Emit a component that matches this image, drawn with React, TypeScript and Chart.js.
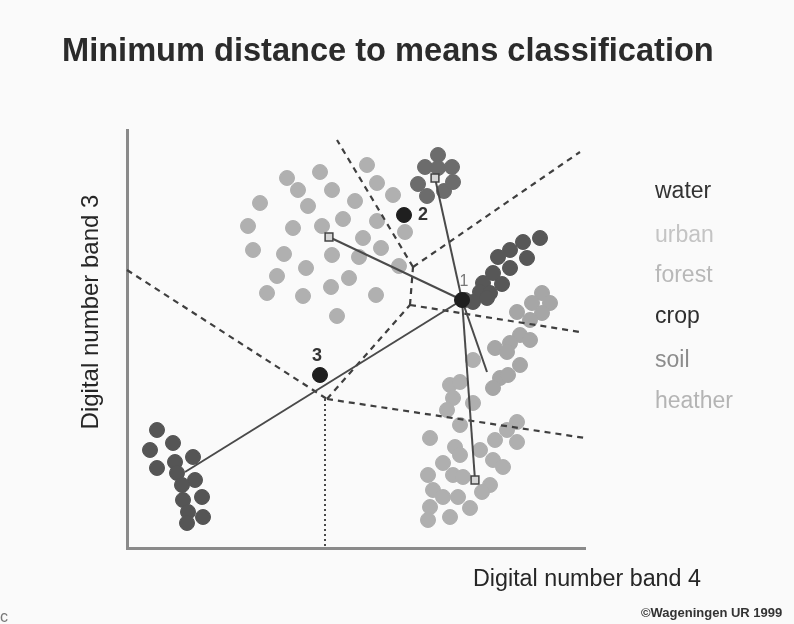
import React, { useEffect, useRef } from "react";
import { Chart, registerables } from "chart.js";
Chart.register(...registerables);

type P = [number, number];

// band 4 (x) , band 3 (y) digital numbers
const urbanPts: P[] = [
  [160, 370], [193, 376], [240, 383], [171, 358], [205, 358], [133, 345], [181, 342], [228, 347],
  [250, 365], [266, 353], [121, 322], [166, 320], [195, 322], [216, 329], [250, 327], [278, 316],
  [126, 298], [157, 294], [205, 293], [236, 310], [232, 291], [254, 300], [272, 282], [179, 280],
  [150, 272], [222, 270], [204, 261], [140, 255], [176, 252], [249, 253], [210, 232],
];
const topPts: P[] = [
  [311, 393], [298, 381], [325, 381], [311, 380], [291, 364], [300, 352], [317, 357], [326, 366],
];
const diagPts: P[] = [
  [413, 310], [396, 306], [383, 298], [371, 291], [400, 290], [383, 280], [366, 275], [375, 264],
  [356, 265], [353, 256], [363, 255], [338, 248], [346, 246], [360, 250],
];
const rightPts: P[] = [
  [415, 255], [423, 245], [405, 245], [390, 236], [415, 235], [403, 228], [393, 213], [403, 208],
  [383, 205], [368, 200], [380, 196], [393, 183], [373, 170], [381, 173], [366, 160],
];
const lowerPts: P[] = [
  [323, 163], [333, 166], [326, 150], [346, 145], [320, 138], [333, 123], [390, 126], [380, 118],
  [368, 108], [390, 106], [303, 110], [328, 101], [333, 93], [353, 98], [366, 88], [376, 81],
  [316, 85], [301, 73], [326, 73], [336, 71], [363, 63], [355, 56], [306, 58], [316, 51],
  [331, 51], [303, 41], [343, 40], [301, 28], [323, 31], [346, 188],
];
const waterPts: P[] = [
  [30, 118], [46, 105], [23, 98], [30, 80], [48, 86], [66, 91], [50, 75], [68, 68],
  [55, 63], [75, 51], [56, 48], [61, 36], [76, 31], [60, 25],
];

const classMeans: P[] = [[202, 311], [308, 370], [348, 68]];
const lineEnds: P[] = [[202, 311], [308, 370], [360, 176], [348, 68], [58, 76]];
const unknownPts: P[] = [[335, 248], [277, 333], [193, 173]];
const unknownLabels = ["1", "2", "3"];
const labelPos: P[] = [[337, 266], [296, 333], [190, 192]];

// decision boundaries
const boundaries: P[][] = [
  [[0, 278], [200, 149]],
  [[200, 149], [458, 110]],
  [[200, 149], [283, 243]],
  [[283, 243], [286, 281]],
  [[286, 281], [210, 408]],
  [[286, 281], [453, 396]],
  [[283, 243], [453, 216]],
];
const verticalGuide: P[] = [[198, 149], [198, 0]];

const legendNames = ["water", "urban", "forest", "crop", "soil", "heather"];
const legendColors = ["#333333", "#c4c4c4", "#b8b8b8", "#2e2e2e", "#8c8c8c", "#b4b4b4"];

const TITLE = "Minimum distance to means classification";
const XTITLE = "Digital number band 4";
const YTITLE = "Digital number band 3";
const CREDIT = "©Wageningen UR 1999";

const xy = (a: P[]) => a.map(([x, y]) => ({ x, y }));

const cluster = (data: P[], color: string) => ({
  data: xy(data),
  backgroundColor: color,
  borderColor: color,
  borderWidth: 1,
  pointRadius: 7.5,
  order: 5,
  clip: false,
});

const textPlugin = {
  id: "texts",
  afterDraw(chart: any) {
    const ctx = chart.ctx as CanvasRenderingContext2D;
    const xs = chart.scales.x;
    const ys = chart.scales.y;
    ctx.save();
    ctx.textAlign = "left";
    ctx.textBaseline = "alphabetic";
    ctx.fillStyle = "#2b2b2b";
    ctx.font = 'bold 32.6px "Liberation Sans", Arial, sans-serif';
    ctx.fillText(TITLE, 62, 61);

    ctx.font = '23.3px "Liberation Sans", Arial, sans-serif';
    ctx.fillStyle = "#262626";
    ctx.fillText(XTITLE, 473, 586);
    ctx.font = '24px "Liberation Sans", Arial, sans-serif';
    ctx.save();
    ctx.translate(98, 312);
    ctx.rotate(-Math.PI / 2);
    ctx.textAlign = "center";
    ctx.fillText(YTITLE, 0, 0);
    ctx.restore();

    const bases = [198, 242, 282, 323, 367, 408];
    ctx.font = '23px "Liberation Sans", Arial, sans-serif';
    legendNames.forEach((n, i) => {
      ctx.fillStyle = legendColors[i];
      ctx.fillText(n, 655, bases[i]);
    });

    ctx.font = 'bold 13px "Liberation Sans Narrow", "Liberation Sans", Arial, sans-serif';
    ctx.fillStyle = "#333";
    ctx.fillText(CREDIT, 641, 617);

    ctx.font = '16px "Liberation Sans", Arial, sans-serif';
    ctx.fillStyle = "#777";
    ctx.fillText("c", 0, 622);

    ctx.textAlign = "center";
    ctx.textBaseline = "middle";
    unknownLabels.forEach((t, i) => {
      ctx.font = i === 0 ? '16px "Liberation Sans", Arial, sans-serif' : 'bold 18px "Liberation Sans", Arial, sans-serif';
      ctx.fillStyle = i === 0 ? "#777" : "#333";
      ctx.fillText(t, xs.getPixelForValue(labelPos[i][0]), ys.getPixelForValue(labelPos[i][1]));
    });
    ctx.restore();
  },
};

export default function App() {
  const ref = useRef<HTMLCanvasElement | null>(null);
  useEffect(() => {
    if (!ref.current) return;
    const datasets: any[] = [
      cluster(urbanPts, "#b0b0b0"),
      cluster(topPts, "#6c6c6c"),
      cluster(diagPts, "#575757"),
      cluster(rightPts, "#a6a6a6"),
      cluster(lowerPts, "#afafaf"),
      cluster(waterPts, "#555555"),
    ];
    boundaries.forEach((seg) =>
      datasets.push({
        data: xy(seg),
        showLine: true,
        pointRadius: 0,
        borderColor: "#3f3f3f",
        borderWidth: 2.2,
        borderDash: [6, 5],
        order: 3,
        clip: false,
      })
    );
    datasets.push({
      data: xy(verticalGuide),
      showLine: true,
      pointRadius: 0,
      borderColor: "#4a4a4a",
      borderWidth: 2,
      borderDash: [2, 3],
      order: 3,
      clip: false,
    });
    lineEnds.forEach((e) =>
      datasets.push({
        data: xy([unknownPts[0], e]),
        showLine: true,
        pointRadius: 0,
        borderColor: "#4a4a4a",
        borderWidth: 2,
        order: 2,
        clip: false,
      })
    );
    datasets.push({
      data: xy(classMeans),
      pointStyle: "rect",
      pointRadius: 5.5,
      backgroundColor: "#d6d6d6",
      borderColor: "#444",
      borderWidth: 1.5,
      order: 1,
      clip: false,
    });
    datasets.push({
      data: xy(unknownPts),
      pointRadius: 7.5,
      backgroundColor: "#1f1f1f",
      borderColor: "#1f1f1f",
      borderWidth: 1,
      order: 0,
      clip: false,
    });

    const axis = (min: number, max: number, horizontal: boolean) => ({
      type: "linear",
      min,
      max,
      display: true,
      ticks: { display: false },
      grid: { display: true, color: "transparent", drawTicks: false },
      border: { display: true, color: "#8a8a8a", width: 3 },
      afterFit: (s: any) => {
        if (horizontal) s.height = 0;
        else s.width = 0;
      },
    });

    const chart = new Chart(ref.current, {
      type: "scatter",
      data: { datasets },
      options: {
        responsive: false,
        animation: false,
        devicePixelRatio: 1,
        events: [],
        layout: { padding: { left: 127, right: 209, top: 130, bottom: 76 } },
        plugins: { legend: { display: false }, title: { display: false }, tooltip: { enabled: false } },
        scales: { x: axis(0, 458, true) as any, y: axis(0, 418, false) as any },
      },
      plugins: [textPlugin],
    });
    return () => chart.destroy();
  }, []);

  return (
    <div style={{ position: "absolute", left: 0, top: 0, width: 794, height: 624, background: "#fafafa" }}>
      <canvas ref={ref} width={794} height={624} style={{ display: "block", width: 794, height: 624 }} />
    </div>
  );
}
